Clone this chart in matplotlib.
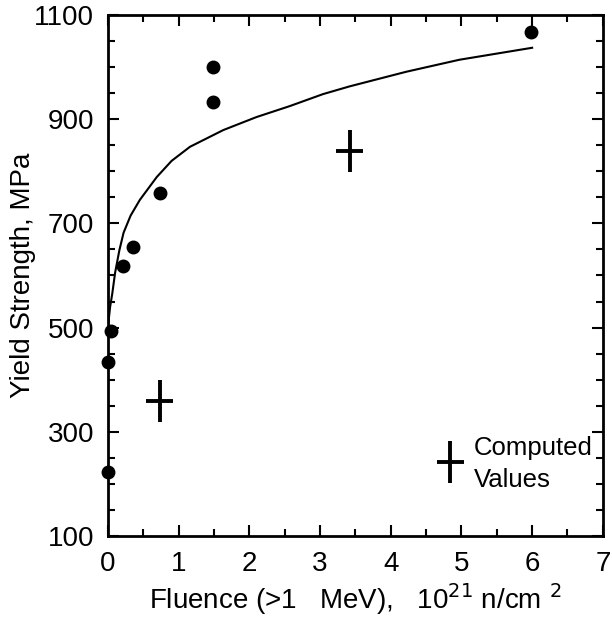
import matplotlib
matplotlib.use("Agg")
import matplotlib.pyplot as plt
from matplotlib.ticker import MultipleLocator, FixedLocator

plt.rcParams['font.family'] = ['Liberation Sans', 'DejaVu Sans']
plt.rcParams['mathtext.fontset'] = 'custom'
plt.rcParams['mathtext.rm'] = 'Liberation Sans'

# measured data (dots)
meas_x = [0.0, 0.0, 0.04, 0.21, 0.36, 0.73, 1.48, 1.48, 5.99]
meas_y = [223, 434, 494, 618, 654, 758, 933, 1000, 1067]

# computed values (crosses)
comp_x = [0.73, 3.42]
comp_y = [359, 839]
comp_xerr = [0.19, 0.19]
comp_yerr = [40, 40]

# fitted curve
curve_x = [0.0, 0.01, 0.03, 0.06, 0.1, 0.16, 0.22, 0.32, 0.45, 0.69, 0.9, 1.16,
           1.63, 2.1, 2.57, 3.04, 3.42, 4.22, 4.97, 6.0]
curve_y = [490, 515, 540, 565, 605, 648, 682, 715, 745, 789, 820, 847,
           879, 904, 925, 948, 963, 991, 1014, 1037]

# legend cross
leg_x = [4.84]
leg_y = [242]

y_ticks = [100, 300, 500, 700, 900, 1100]

fig = plt.figure(figsize=(6.12, 6.23), dpi=100)
ax = fig.add_axes([0.1765, 0.1397, 0.8085, 0.8363])

ax.plot(curve_x, curve_y, color='black', lw=1.5, zorder=2)
ax.plot(meas_x, meas_y, 'o', color='black', ms=9, zorder=3, clip_on=False)
ax.errorbar(comp_x, comp_y, xerr=comp_xerr, yerr=comp_yerr, fmt='none',
            ecolor='black', elinewidth=2.8, capsize=0, zorder=3)
ax.errorbar(leg_x, leg_y, xerr=[0.19], yerr=[40], fmt='none',
            ecolor='black', elinewidth=2.8, capsize=0, zorder=3)
ax.text(5.17, 255, 'Computed', fontsize=18.5, ha='left', va='baseline')
ax.text(5.17, 194, 'Values', fontsize=18.5, ha='left', va='baseline')

ax.set_xlim(0, 7)
ax.set_ylim(100, 1100)
ax.xaxis.set_major_locator(MultipleLocator(1))
ax.xaxis.set_minor_locator(MultipleLocator(0.5))
ax.yaxis.set_major_locator(FixedLocator(y_ticks))
ax.yaxis.set_minor_locator(MultipleLocator(50))
ax.tick_params(which='both', direction='in', top=True, right=True, width=1.5)
ax.tick_params(which='major', length=8, labelsize=20)
ax.tick_params(axis='x', which='major', pad=11)
ax.tick_params(axis='y', which='major', pad=10)
ax.tick_params(which='minor', length=5)
for s in ax.spines.values():
    s.set_linewidth(2)

ax.set_xlabel('Fluence (>1   MeV),   10$^{\\mathsf{21}}$ n/cm $^{\\mathsf{2}}$',
              fontsize=20, labelpad=3)
ax.set_ylabel('Yield Strength, MPa', fontsize=20, labelpad=-1)

fig.savefig('out.png', dpi=100)
